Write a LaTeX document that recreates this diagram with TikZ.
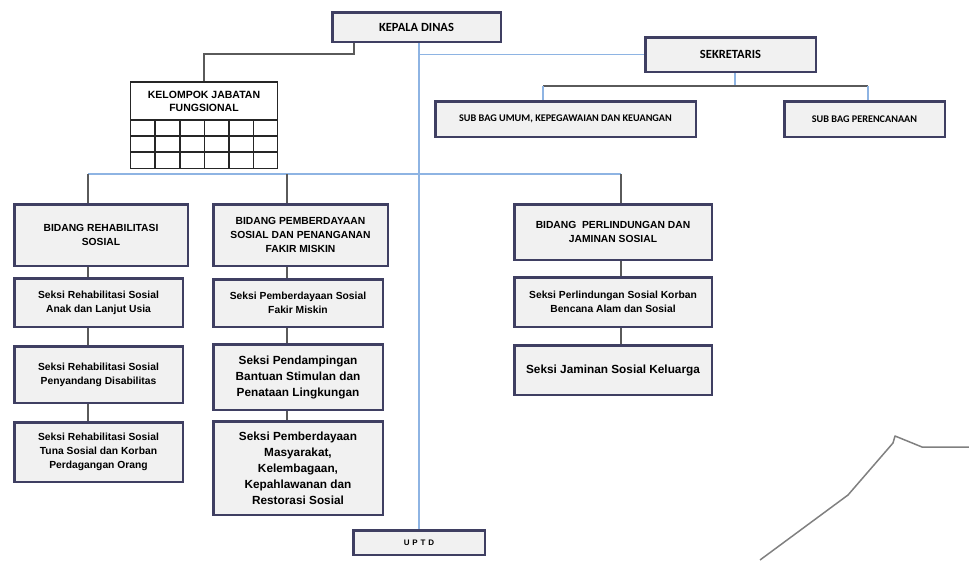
\documentclass[tikz,border=0pt]{standalone}
\usepackage{fontspec}
\setmainfont{Liberation Sans}
\newfontfamily\carlito{Carlito}
\usepackage{xcolor}
\usepackage{tikz}
\usetikzlibrary{positioning,backgrounds}

\definecolor{boxborder}{HTML}{3F3F62}
\definecolor{boxfill}{HTML}{F1F1F1}
\definecolor{linkblue}{HTML}{8EB4E3}
\definecolor{linkgray}{HTML}{5A5A5A}

\begin{document}
\begin{tikzpicture}[x=1pt, y=-1pt,
    box/.style={rectangle, draw=boxborder, line width=2.5pt, fill=boxfill, align=center, inner sep=2pt, font=\fontsize{10.3}{14}\selectfont\bfseries},
    topbox/.style={box, font=\carlito\fontsize{12.5}{14}\selectfont\bfseries},
    subbox/.style={box, font=\carlito\fontsize{10.2}{12}\selectfont\bfseries},
    bigbox/.style={box, font=\fontsize{11.8}{16}\selectfont\bfseries},
    bluelink/.style={draw=linkblue, line width=1.5pt},
    graylink/.style={draw=linkgray, line width=1.5pt},
    gridline/.style={draw=black!85, line width=1.2pt}
]
\useasboundingbox (0,0) rectangle (969,560);

\node[topbox, minimum width=168.5pt, minimum height=29.5pt] (kepala) at (416.5,27) {KEPALA DINAS};
\node[topbox, minimum width=170.5pt, minimum height=34.5pt] (sekretaris) at (730.5,54.5) {SEKRETARIS};
\node[subbox, minimum width=260.5pt, minimum height=35.5pt] (subumum) at (565.5,119) {SUB BAG UMUM, KEPEGAWAIAN DAN KEUANGAN};
\node[subbox, minimum width=160.5pt, minimum height=35.5pt, right=86pt of subumum] (subren) {SUB BAG PERENCANAAN};

\node[rectangle, draw=black!85, line width=1.2pt, fill=white, minimum width=147pt, minimum height=38pt, align=center, font=\fontsize{10.5}{13}\selectfont\bfseries] (kelompok) at (204,101) {KELOMPOK JABATAN\\FUNGSIONAL};
\draw[gridline] (130.6,120) rectangle (277.4,168.6);
\foreach \x in {155,180,204.5,229,253.5}
    \draw[gridline] (\x,120) -- (\x,168.6);
\foreach \y in {136,152}
    \draw[gridline] (130.6,\y) -- (277.4,\y);

\node[box, minimum width=173.5pt, minimum height=61.5pt] (bidrehab) at (101,235) {BIDANG REHABILITASI\\SOSIAL};
\node[box, minimum width=174.5pt, minimum height=61.5pt, right=23pt of bidrehab] (bidpemb) {BIDANG PEMBERDAYAAN\\SOSIAL DAN PENANGANAN\\FAKIR MISKIN};
\node[box, minimum width=197.5pt, minimum height=55.5pt, right=124pt of bidpemb.north east, anchor=north west] (bidlin) {BIDANG\ \ PERLINDUNGAN DAN\\JAMINAN SOSIAL};

\node[box, minimum width=168.5pt, minimum height=48.5pt, below=10pt of bidrehab.south west, anchor=north west] (rehabanak) {Seksi Rehabilitasi Sosial\\Anak dan Lanjut Usia};
\node[box, minimum width=168.5pt, minimum height=56.5pt, below=17pt of rehabanak] (rehabdis) {Seksi Rehabilitasi Sosial\\Penyandang Disabilitas};
\node[box, minimum width=168.5pt, minimum height=59.5pt, below=17pt of rehabdis] (rehabtuna) {Seksi Rehabilitasi Sosial\\Tuna Sosial dan Korban\\Perdagangan Orang};

\node[box, minimum width=169.5pt, minimum height=47.5pt, below=11pt of bidpemb.south west, anchor=north west] (pembfakir) {Seksi Pemberdayaan Sosial\\Fakir Miskin};
\node[bigbox, minimum width=169.5pt, minimum height=65.5pt, below=15pt of pembfakir] (pendamping) {Seksi Pendampingan\\Bantuan Stimulan dan\\Penataan Lingkungan};
\node[bigbox, minimum width=169.5pt, minimum height=93.5pt, below=9pt of pendamping] (pembmasy) {Seksi Pemberdayaan\\Masyarakat,\\Kelembagaan,\\Kepahlawanan dan\\Restorasi Sosial};

\node[box, minimum width=197.5pt, minimum height=49.5pt, below=15pt of bidlin] (linbencana) {Seksi Perlindungan Sosial Korban\\Bencana Alam dan Sosial};
\node[bigbox, minimum width=197.5pt, minimum height=49.5pt, below=16pt of linbencana] (jaminan) {Seksi Jaminan Sosial Keluarga};

\node[box, minimum width=131.5pt, minimum height=24.5pt, font=\fontsize{8}{10}\selectfont\bfseries\addfontfeatures{LetterSpace=35}] (uptd) at (419,542.5) {UPTD};

\coordinate (colrehab) at (88,174);
\coordinate (colpemb) at (287,174);
\coordinate (collin) at (621,174);
\coordinate (sekbus) at (543,86);
\coordinate (renbus) at (868,86);

\begin{scope}[on background layer]
\draw[graylink] ([xshift=23pt]kepala.south west) -- ++(0,11) -| (kelompok.north);
\draw[bluelink] (kepala.south -| uptd.north) -- (uptd.north);
\draw[bluelink] (sekretaris.west) -- (sekretaris.west -| uptd.north);
\draw[bluelink] ([xshift=4.5pt]sekretaris.south) -- ([xshift=4.5pt]sekretaris.south |- sekbus);
\draw[graylink] (sekbus) -- (renbus);
\draw[bluelink] (sekbus) -- (sekbus |- subumum.north);
\draw[bluelink] (renbus) -- (renbus |- subren.north);
\draw[bluelink] (colrehab) -- (collin);
\draw[graylink] (colrehab) -- (colrehab |- rehabtuna.north);
\draw[graylink] (colpemb) -- (colpemb |- pembmasy.north);
\draw[graylink] (collin) -- (collin |- jaminan.north);
\end{scope}

\draw[draw=black!50, line width=1.5pt, line join=round] (760,560) -- (848,495) -- (893,443) -- (895,436) -- (922,447) -- (969,447);

\end{tikzpicture}
\end{document}
